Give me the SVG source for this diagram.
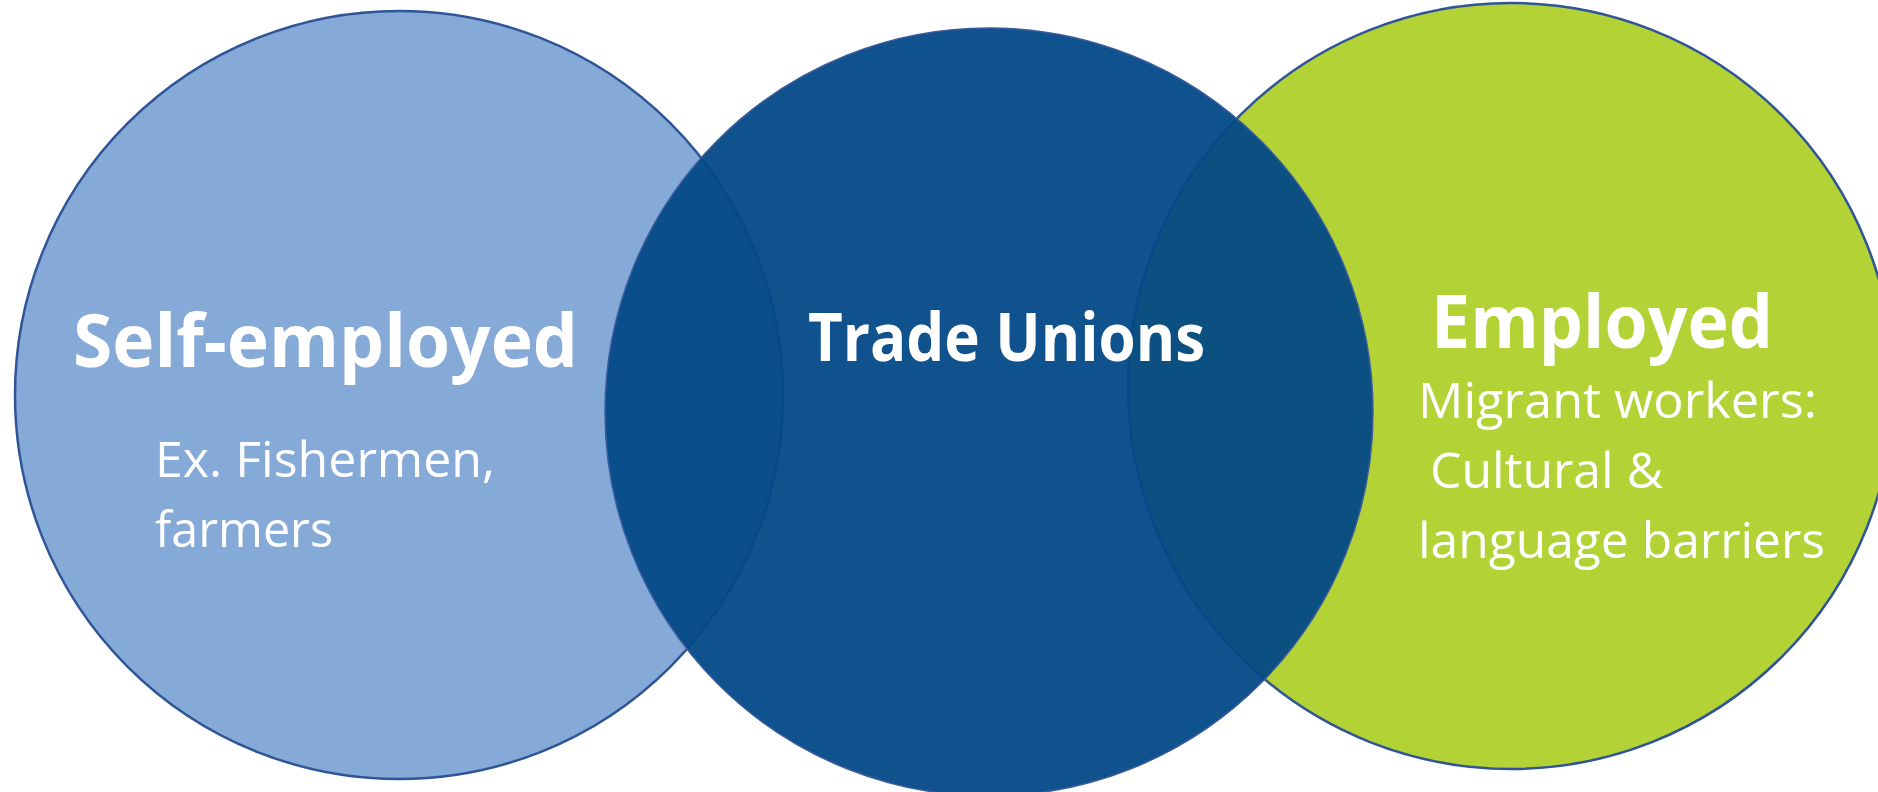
<svg xmlns="http://www.w3.org/2000/svg" width="1878" height="792" viewBox="0 0 1878 792">
  <style>
    .ring { stroke: #2F5597; stroke-width: 2.5; }
    .head { font-family: "Open Sans", "Liberation Sans", sans-serif; font-weight: 700; fill: #FFFFFF; }
    .body { font-family: "Open Sans", "Liberation Sans", sans-serif; font-weight: 400; fill: #FFFFFF; font-size: 50px; }
  </style>
  <rect x="0" y="0" width="1878" height="792" fill="#FFFFFF"/>
  <g id="self-employed">
    <circle class="ring" cx="399" cy="395" r="384" fill="#86AAD7"/>
    <text class="head" x="73" y="367" font-size="74" textLength="505" lengthAdjust="spacingAndGlyphs">Self-employed</text>
    <text class="body" x="155" y="477" textLength="340" lengthAdjust="spacingAndGlyphs">Ex. Fishermen,</text>
    <text class="body" x="155" y="547" textLength="178" lengthAdjust="spacingAndGlyphs">farmers</text>
  </g>
  <g id="employed">
    <circle class="ring" cx="1511" cy="386" r="383" fill="#B2D235"/>
    <text class="head" x="1431" y="348" font-size="74" textLength="342" lengthAdjust="spacingAndGlyphs">Employed</text>
    <text class="body" x="1418" y="418" textLength="399" lengthAdjust="spacingAndGlyphs">Migrant workers:</text>
    <text class="body" x="1430" y="488" textLength="233" lengthAdjust="spacingAndGlyphs">Cultural &amp;</text>
    <text class="body" x="1418" y="558" textLength="407" lengthAdjust="spacingAndGlyphs">language barriers</text>
  </g>
  <g id="trade-unions">
    <circle cx="989" cy="412" r="384" fill="#034987" fill-opacity="0.95" stroke="#3A5C9C" stroke-width="1.5"/>
    <text class="head" x="808" y="361" font-size="66" textLength="397" lengthAdjust="spacingAndGlyphs">Trade Unions</text>
  </g>
</svg>
